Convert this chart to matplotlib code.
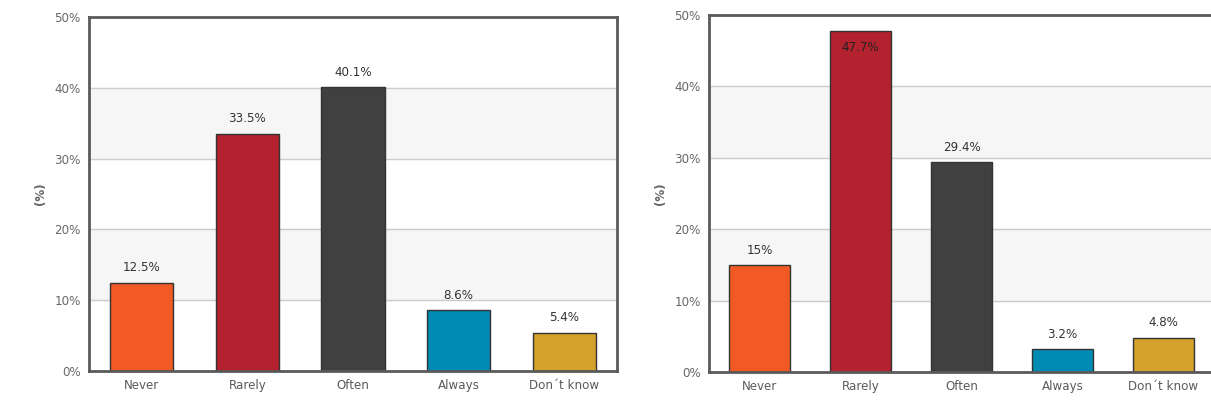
import matplotlib
matplotlib.use('Agg')
import matplotlib.pyplot as plt
from matplotlib.ticker import FuncFormatter

# survey answers, two groups
categories = ['Never', 'Rarely', 'Often', 'Always', 'Don\u00b4t know']
left_values = [12.5, 33.5, 40.1, 8.6, 5.4]
right_values = [15, 47.7, 29.4, 3.2, 4.8]
left_labels = ['12.5%', '33.5%', '40.1%', '8.6%', '5.4%']
right_labels = ['15%', '47.7%', '29.4%', '3.2%', '4.8%']
bar_colors = ['#f15a24', '#b3222e', '#404040', '#008bb4', '#d4a12b']
y_ticks = [0, 10, 20, 30, 40, 50]

plt.rcParams['font.family'] = ['DejaVu Sans']
FS = 8.6

fig = plt.figure(figsize=(12.11, 4.08), dpi=100)
ax1 = fig.add_axes([89/1211, 1-371/408, (617-89)/1211, (371-17)/408])
ax2 = fig.add_axes([709/1211, 1-372/408, (1214-709)/1211, (372-15)/408])


def draw_panel(ax, values, labels, inside=()):
    x = range(len(categories))
    ax.set_xlim(-0.5, len(categories)-0.5)
    ax.set_ylim(0, 50)
    # alternating background bands
    for lo in (10, 30):
        ax.axhspan(lo, lo+10, color='#f6f6f6', zorder=0)
    for t in y_ticks[1:-1]:
        ax.axhline(t, color='#cccccc', lw=1, zorder=1)
    ax.bar(x, values, width=0.6, color=bar_colors, edgecolor='#333333', linewidth=1, zorder=3)
    for i, (v, lab) in enumerate(zip(values, labels)):
        if i in inside:
            ax.annotate(lab, (i, v), xytext=(0, -7), textcoords='offset points',
                        ha='center', va='top', fontsize=FS, color='#222222', zorder=4)
        else:
            ax.annotate(lab, (i, v), xytext=(0, 6), textcoords='offset points',
                        ha='center', va='bottom', fontsize=FS, color='#333333', zorder=4)
    ax.set_xticks(list(x))
    ax.set_xticklabels(categories, fontsize=FS, color='#5a5a5a')
    ax.set_yticks(y_ticks)
    ax.yaxis.set_major_formatter(FuncFormatter(lambda v, p: '%d%%' % v))
    ax.tick_params(axis='both', length=0, labelsize=FS, labelcolor='#666666')
    ax.tick_params(axis='x', pad=6, labelcolor='#5a5a5a')
    ax.tick_params(axis='y', pad=6)
    for s in ax.spines.values():
        s.set_color('#5a5a5a')
        s.set_linewidth(2)
        s.set_zorder(5)
    ax.set_ylabel('(%)', fontsize=FS, fontweight='bold', color='#666666', labelpad=5.5)


draw_panel(ax1, left_values, left_labels)
draw_panel(ax2, right_values, right_labels, inside=(1,))

fig.savefig('out.png', dpi=100)
